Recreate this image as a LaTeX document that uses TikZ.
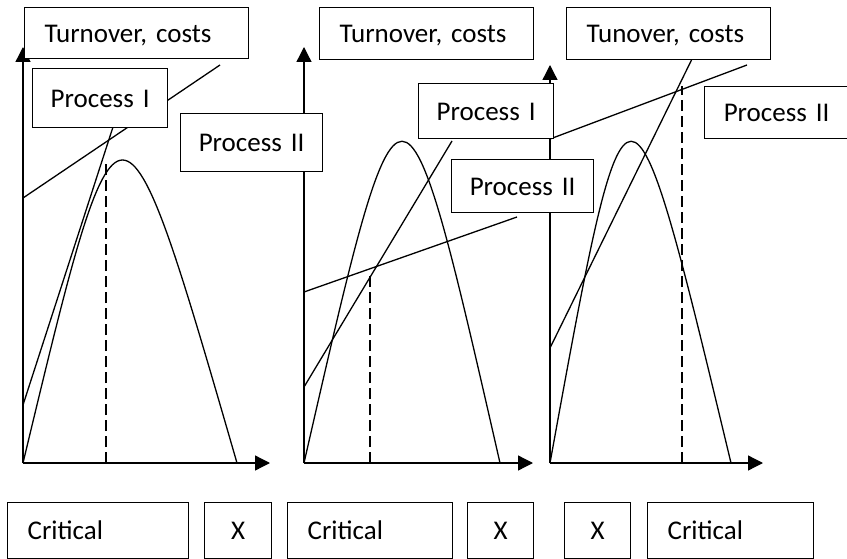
\documentclass[tikz,border=0pt]{standalone}
\usepackage{fontspec}
\setmainfont{Carlito}
\usetikzlibrary{arrows.meta}

\begin{document}
\begin{tikzpicture}[x=1pt, y=-1pt, line width=1.3pt,
		axis/.style={-{Triangle[length=15pt, width=15pt]}},
		crit/.style={dash pattern=on 11pt off 5pt},
		box/.style={draw, fill=white, anchor=north west, inner ysep=0pt,
			font=\fontsize{27}{31}\selectfont, text height=18pt, text depth=0pt},
		lbox/.style={box, align=left, inner xsep=20pt},
		cbox/.style={box, align=center, inner xsep=4pt}]
	\def\base{463};

	\useasboundingbox (0,0) rectangle (847,559);

	\begin{scope}
		\draw[crit] (106,\base) -- (106,163);
		\draw (23,\base) .. controls (120,59) .. (237,\base);
		\draw (23,405) -- (113,127);
		\draw (23,198) -- (220,65);
		\draw[axis] (23,\base) -- (270,\base);
		\draw[axis] (23,\base) -- (23,47);
	\end{scope}

	\begin{scope}
		\draw[crit] (370,\base) -- (370,273);
		\draw (304,\base) .. controls (402,34) .. (500,\base);
		\draw (304,387) -- (452,141);
		\draw (304,292) -- (517,217);
		\draw[axis] (304,\base) -- (533,\base);
		\draw[axis] (304,\base) -- (304,47);
	\end{scope}

	\begin{scope}
		\draw[crit] (682,\base) -- (682,86);
		\draw (550,\base) .. controls (628,34) .. (731,\base);
		\draw (550,348) -- (692,59);
		\draw (550,139) -- (747,65);
		\draw[axis] (550,\base) -- (763,\base);
		\draw[axis] (550,\base) -- (550,65);
	\end{scope}

	\node[lbox, text width=184pt, minimum height=51pt] (turnA) at (24,7) {Turnover, costs};
	\node[cbox, text width=127pt, minimum height=59pt] (procIA) at (32,68) {Process I};
	\node[cbox, text width=134pt, minimum height=58pt] (procIIA) at (180,113) {Process II};

	\node[lbox, text width=174pt, minimum height=52pt] (turnB) at (319,7) {Turnover, costs};
	\node[cbox, text width=127pt, minimum height=55pt] (procIB) at (418,83) {Process I};
	\node[cbox, text width=134pt, minimum height=53pt] (procIIB) at (451,159) {Process II};

	\node[lbox, text width=164pt, minimum height=52pt] (turnC) at (566,7) {Tunover, costs};
	\node[cbox, text width=136pt, minimum height=52pt] (procIIC) at (704,86) {Process II};

	\node[lbox, text width=141pt, minimum height=56pt] (critA) at (7,502) {Critical};
	\node[cbox, text width=59pt, minimum height=56pt] (xA) at (204,502) {X};
	\node[lbox, text width=125pt, minimum height=56pt] (critB) at (287,502) {Critical};
	\node[cbox, text width=58pt, minimum height=56pt] (xB) at (467,502) {X};
	\node[cbox, text width=58pt, minimum height=56pt] (xC) at (564,502) {X};
	\node[lbox, text width=126pt, minimum height=56pt] (critC) at (647,502) {Critical};
\end{tikzpicture}
\end{document}
